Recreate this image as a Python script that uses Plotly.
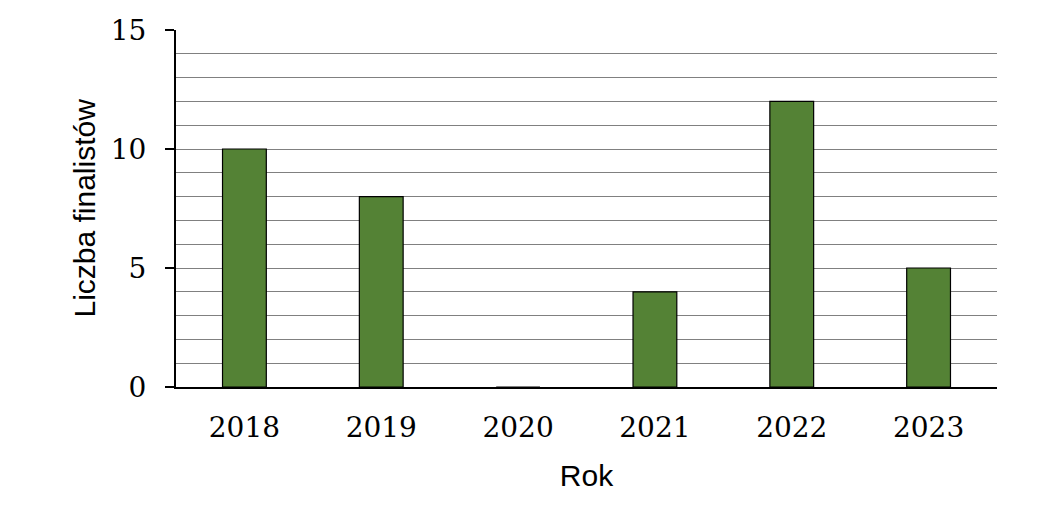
import plotly.graph_objects as go

years = ["2018", "2019", "2020", "2021", "2022", "2023"]
finalists = [10, 8, 0, 4, 12, 5]

fig = go.Figure()

fig.add_trace(go.Bar(
    x=years,
    y=finalists,
    marker_color="#548235",
    marker_line_color="black",
    marker_line_width=1.2,
    width=0.32,
))

# page body has an 8px margin, so plot area offsets are shifted by 8
fig.update_layout(
    width=1050,
    height=510,
    margin=dict(l=168, r=61, t=22, b=131),
    plot_bgcolor="white",
    paper_bgcolor="white",
    showlegend=False,
    xaxis=dict(
        title=dict(text="Rok", font=dict(family="Liberation Sans", size=30, color="black"), standoff=22),
        tickfont=dict(family="DejaVu Serif", size=28, color="black"),
        ticklabelstandoff=14,
        automargin=False,
        showline=True,
        linecolor="black",
        linewidth=2,
        ticks="",
        showgrid=False,
    ),
    yaxis=dict(
        tickfont=dict(family="DejaVu Serif", size=28, color="black"),
        ticklabelstandoff=13,
        automargin=False,
        range=[0, 15],
        dtick=5,
        showline=True,
        linecolor="black",
        linewidth=2,
        ticks="outside",
        ticklen=9,
        tickwidth=2,
        tickcolor="black",
        showgrid=True,
        gridcolor="#808080",
        gridwidth=1,
        zeroline=False,
        minor=dict(dtick=1, showgrid=True, gridcolor="#808080", gridwidth=1),
    ),
)

# y title as annotation so it can sit closer to the tick labels
fig.add_annotation(
    text="Liczba finalistów",
    xref="paper", yref="paper",
    x=-0.112, y=0.5,
    xanchor="center", yanchor="middle",
    textangle=-90,
    showarrow=False,
    font=dict(family="Liberation Sans", size=30, color="black"),
)

fig.write_html("out.html")
